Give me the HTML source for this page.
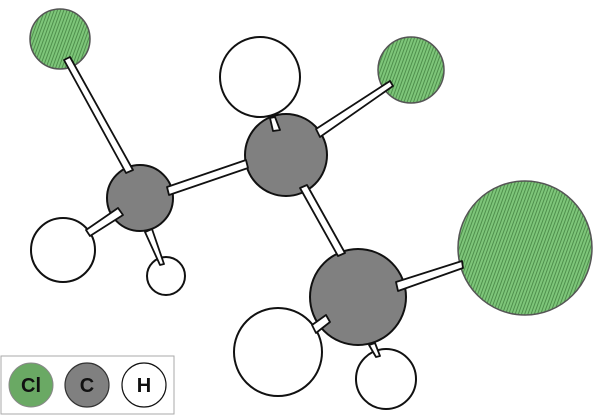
<!DOCTYPE html>
<html><head><style>body{margin:0;background:#fff}svg{display:block}</style></head><body>
<svg width="600" height="416" viewBox="0 0 600 416" xmlns="http://www.w3.org/2000/svg">
<defs>
<pattern id="h" width="3" height="3" patternUnits="userSpaceOnUse" patternTransform="rotate(20)">
<rect width="3" height="3" fill="#7ec67a"/><rect width="1" height="3" fill="#4f8f4c"/>
</pattern>
</defs>
<g stroke-width="2" stroke="#111">
<circle cx="60" cy="39" r="30" fill="url(#h)" stroke="#555" stroke-width="1.5"/>
<circle cx="260" cy="77" r="40" fill="#fff"/>
<circle cx="411" cy="70" r="33" fill="url(#h)" stroke="#555" stroke-width="1.5"/>
<circle cx="525" cy="248" r="67" fill="url(#h)" stroke="#555" stroke-width="1.5"/>
<circle cx="63" cy="250" r="32" fill="#fff"/>
<circle cx="166" cy="276" r="19" fill="#fff"/>
<circle cx="386" cy="379" r="30" fill="#fff"/>
<circle cx="140" cy="198" r="33" fill="#808080"/>
<circle cx="286" cy="155" r="41" fill="#808080"/>
<circle cx="358" cy="297" r="48" fill="#808080"/>
<circle cx="278" cy="352" r="44" fill="#fff"/>
</g>
<g stroke="#111" stroke-width="1.8" fill="#fff" stroke-linejoin="round">
<polygon points="64,60 70,57 133,170 126,173"/>
<polygon points="167,187 246,160 248,168 169,195"/>
<polygon points="270,118 275,117 280,130 273,131"/>
<polygon points="316,129 390,81 393,86 320,137"/>
<polygon points="300,188 307,185 345,253 338,256"/>
<polygon points="86,230 118,208 123,215 90,236"/>
<polygon points="145,232 152,229 164,264 160,265"/>
<polygon points="396,282 462,261 463,268 398,291"/>
<polygon points="312,325 326,315 330,322 316,333"/>
<polygon points="369,345 375,343 380,356 376,357"/>
</g>
<rect x="1" y="356" width="173" height="58" fill="#fff" stroke="#aaa" stroke-width="1"/>
<circle cx="31" cy="385" r="22" fill="#6aa964" stroke="#888" stroke-width="1"/>
<circle cx="87" cy="385" r="22" fill="#808080" stroke="#333" stroke-width="1.2"/>
<circle cx="144" cy="385" r="22" fill="#fff" stroke="#111" stroke-width="1.2"/>
<g font-family="Liberation Sans, sans-serif" font-weight="bold" font-size="20" text-anchor="middle" fill="#111">
<text x="31" y="392">Cl</text><text x="87" y="392">C</text><text x="144" y="392">H</text>
</g>
</svg>
</body></html>
